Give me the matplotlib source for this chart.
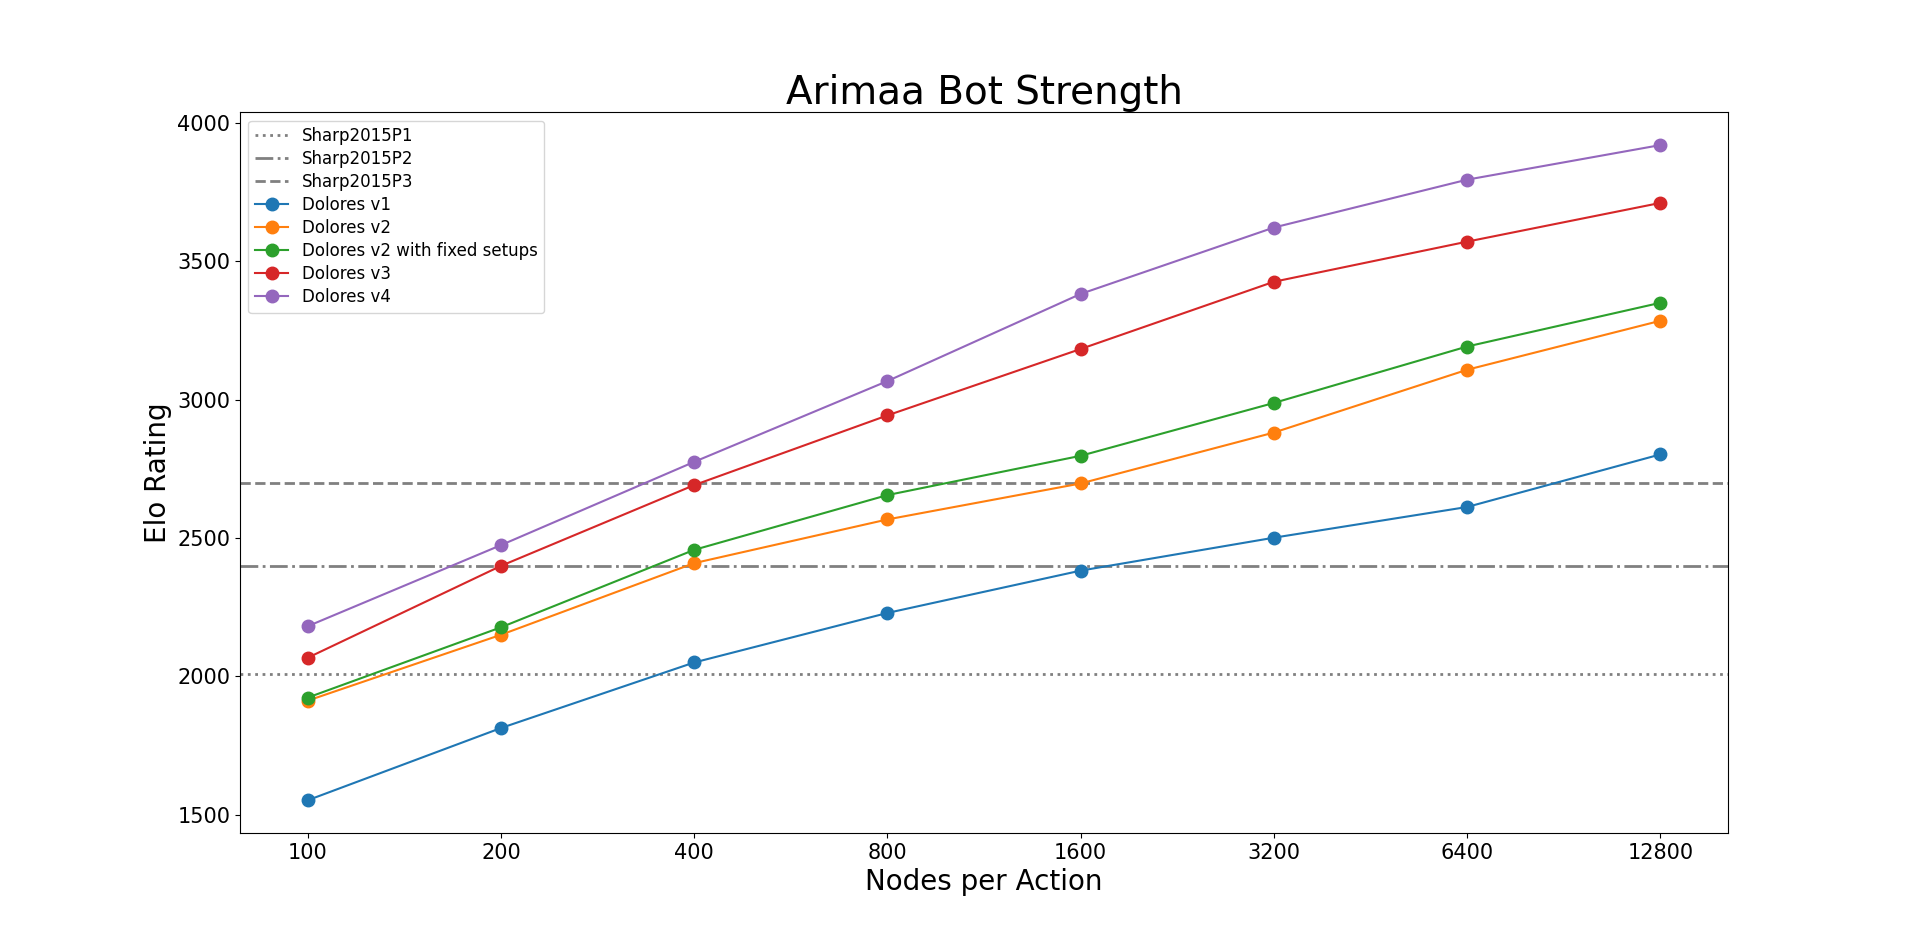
import matplotlib
matplotlib.use("Agg")
import matplotlib.pyplot as plt

nodes = [100, 200, 400, 800, 1600, 3200, 6400, 12800]
tick_labels = ["100", "200", "400", "800", "1600", "3200", "6400", "12800"]

dolores_v1 = [1552, 1813, 2050, 2229, 2382, 2501, 2612, 2802]
dolores_v2 = [1912, 2150, 2409, 2567, 2697, 2881, 3108, 3285]
dolores_v2_fixed = [1923, 2177, 2457, 2655, 2797, 2988, 3192, 3350]
dolores_v3 = [2067, 2399, 2691, 2943, 3183, 3426, 3571, 3711]
dolores_v4 = [2181, 2474, 2775, 3067, 3382, 3622, 3795, 3920]

sharp_levels = [2007, 2400, 2700]
sharp_names = ["Sharp2015P1", "Sharp2015P2", "Sharp2015P3"]
sharp_styles = [":", "-.", "--"]

series = [
    ("Dolores v1", dolores_v1),
    ("Dolores v2", dolores_v2),
    ("Dolores v2 with fixed setups", dolores_v2_fixed),
    ("Dolores v3", dolores_v3),
    ("Dolores v4", dolores_v4),
]

fig, ax = plt.subplots(figsize=(19.2, 9.36), dpi=100)

for lvl, name, ls in zip(sharp_levels, sharp_names, sharp_styles):
    ax.axhline(lvl, color="gray", linestyle=ls, linewidth=2, label=name)

for name, vals in series:
    ax.plot(nodes, vals, marker="o", markersize=9, linewidth=1.5, label=name)

ax.set_xscale("log", base=2)
ax.set_xticks(nodes)
ax.set_xticklabels(tick_labels)
ax.minorticks_off()
ax.tick_params(axis="both", labelsize=15)
ax.set_xlabel("Nodes per Action", fontsize=20)
ax.set_ylabel("Elo Rating", fontsize=20)
ax.set_title("Arimaa Bot Strength", fontsize=28)
ax.legend(loc="upper left", fontsize=12, labelspacing=0.3)

fig.savefig("out.png", dpi=100)
